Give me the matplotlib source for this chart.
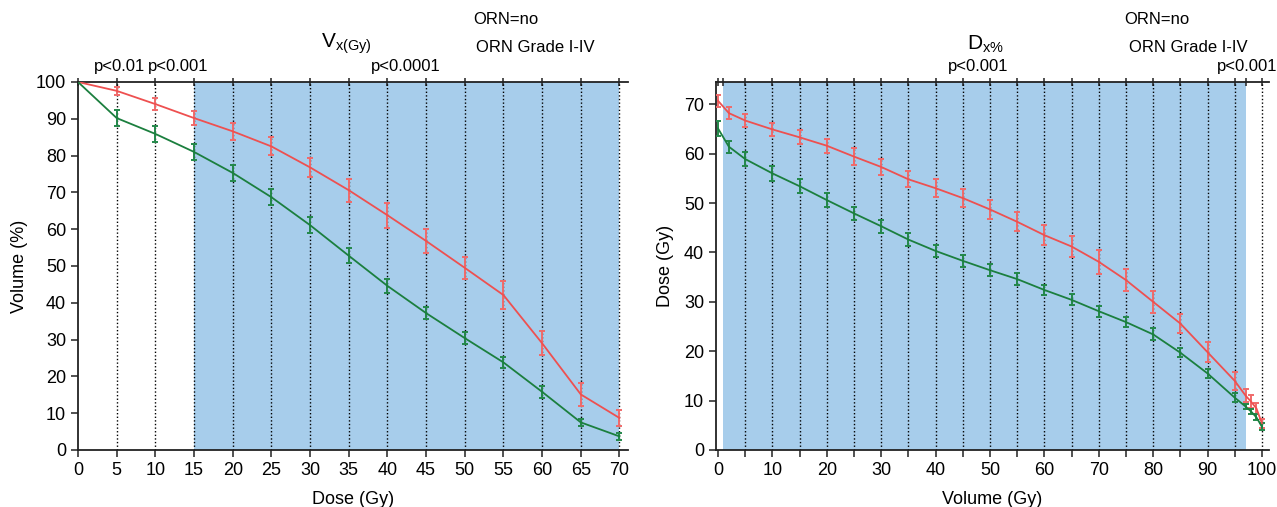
import matplotlib
matplotlib.use("Agg")
import matplotlib.pyplot as plt
import numpy as np

plt.rcParams['font.family'] = ['Liberation Sans', 'DejaVu Sans']
plt.rcParams['mathtext.fontset'] = 'custom'
plt.rcParams['mathtext.rm'] = 'Liberation Sans'
plt.rcParams['mathtext.it'] = 'Liberation Sans'

# ---- Left panel: V_x(Gy) ----
vx_dose = [0, 5, 10, 15, 20, 25, 30, 35, 40, 45, 50, 55, 60, 65, 70]
vx_orn_grade = [100, 97.6, 94.0, 90.2, 86.6, 82.5, 76.8, 70.6, 63.8, 56.8, 49.5, 42.1, 29.0, 15.1, 8.7]
vx_orn_grade_err = [0, 1.0, 1.6, 1.95, 2.3, 2.45, 2.6, 3.1, 3.4, 3.2, 3.0, 3.8, 3.3, 3.2, 2.2]
vx_orn_no = [100, 90.2, 85.9, 81.0, 75.3, 68.7, 61.1, 52.8, 44.6, 37.2, 30.4, 23.8, 15.8, 7.5, 3.7]
vx_orn_no_err = [0, 2.1, 2.1, 2.1, 2.1, 2.1, 2.2, 2.0, 2.0, 1.7, 1.6, 1.45, 1.6, 1.0, 1.0]

# ---- Right panel: D_x% ----
dx_vol = [0, 2, 5, 10, 15, 20, 25, 30, 35, 40, 45, 50, 55, 60, 65, 70, 75, 80, 85, 90, 95, 97, 98, 99, 100]
dx_orn_grade = [70.7, 68.2, 66.7, 64.9, 63.3, 61.6, 59.4, 57.3, 54.8, 53.0, 51.0, 48.7, 46.2, 43.5, 41.2, 38.1, 34.4, 30.0, 25.6, 19.8, 14.0, 11.0, 9.8, 8.4, 5.4]
dx_orn_grade_err = [1.2, 1.25, 1.25, 1.4, 1.4, 1.45, 1.7, 1.7, 1.6, 1.8, 1.8, 1.9, 1.9, 2.0, 2.1, 2.4, 2.2, 2.2, 2.0, 2.0, 1.85, 1.3, 1.35, 1.1, 0.95]
dx_orn_no = [65.1, 61.4, 58.9, 56.0, 53.4, 50.6, 47.9, 45.3, 42.6, 40.3, 38.3, 36.4, 34.6, 32.4, 30.4, 28.1, 25.9, 23.4, 19.7, 15.5, 10.6, 8.8, 7.8, 6.6, 4.7]
dx_orn_no_err = [1.45, 1.25, 1.35, 1.45, 1.4, 1.35, 1.3, 1.35, 1.3, 1.2, 1.2, 1.2, 1.2, 1.1, 1.1, 1.1, 1.1, 1.2, 0.95, 0.9, 0.85, 0.5, 0.55, 0.6, 0.7]

RED = '#EE5050'
RED_E = '#F06A6A'
GREEN = '#1B7F3E'
GREEN_E = '#23884A'
BLUE = '#A7CDEB'

fig = plt.figure(figsize=(12.77, 5.07), dpi=100)
W, H = 1277, 507

def px_axes(l, r, t, b):
    return [l / W, 1 - b / H, (r - l) / W, (b - t) / H]

ax1 = fig.add_axes(px_axes(78, 628, 82, 450))
ax2 = fig.add_axes(px_axes(716, 1269, 82, 450))

def style(ax):
    for s in ['left', 'bottom', 'top']:
        ax.spines[s].set_linewidth(1.3)
        ax.spines[s].set_color('#222222')
    ax.spines['right'].set_visible(False)
    ax.tick_params(axis='both', direction='out', length=5, width=1.1, labelsize=13, color='#222222')

def draw_series(ax, x, y, e, c, ec):
    ax.errorbar(x, y, yerr=e, color=c, ecolor=ec, lw=1.3, elinewidth=1.4,
                capsize=2.2, capthick=1.4, zorder=3)

DOT = (0, (1, 1.6))

# Left panel
style(ax1)
ax1.axvspan(15, 70, color=BLUE, lw=0, zorder=0)
for xv in vx_dose[1:]:
    ax1.axvline(xv, color='black', ls=DOT, lw=1.0, zorder=1)
draw_series(ax1, vx_dose, vx_orn_grade, vx_orn_grade_err, RED, RED_E)
draw_series(ax1, vx_dose, vx_orn_no, vx_orn_no_err, GREEN, GREEN_E)
ax1.set_xlim(0, 71.1)
ax1.set_ylim(0, 100)
ax1.set_xticks(vx_dose)
ax1.set_yticks(np.arange(0, 101, 10))
ax1.set_xlabel('Dose (Gy)', fontsize=13, labelpad=9)
ax1.set_ylabel('Volume (%)', fontsize=13, labelpad=6)
ax1t = ax1.secondary_xaxis('top')
ax1t.set_xticks(vx_dose)
ax1t.set_xticklabels([])
ax1t.tick_params(direction='inout', length=6, width=1.1, color='#222222')
ax1t.spines['top'].set_visible(False)

# Right panel
style(ax2)
ax2.axvspan(1, 97, color=BLUE, lw=0, zorder=0)
for xv in list(range(5, 100, 5)) + [100]:
    ax2.axvline(xv, color='black', ls=DOT, lw=1.0, zorder=1)
draw_series(ax2, dx_vol, dx_orn_grade, dx_orn_grade_err, RED, RED_E)
draw_series(ax2, dx_vol, dx_orn_no, dx_orn_no_err, GREEN, GREEN_E)
ax2.set_xlim(-0.37, 101.3)
ax2.set_ylim(0, 74.5)
ax2.set_xticks(np.arange(0, 101, 10))
ax2.set_xticks(np.arange(5, 100, 10), minor=True)
ax2.tick_params(axis='x', which='minor', direction='out', length=5, width=1.1, color='#222222')
ax2.set_yticks(np.arange(0, 71, 10))
ax2.set_xlabel('Volume (Gy)', fontsize=13, labelpad=9)
ax2.set_ylabel('Dose (Gy)', fontsize=13, labelpad=7)
ax2t = ax2.secondary_xaxis('top')
ax2t.set_xticks([0, 1] + list(range(5, 96, 5)) + [97, 100])
ax2t.set_xticklabels([])
ax2t.tick_params(direction='inout', length=6, width=1.1, color='#222222')
ax2t.spines['top'].set_visible(False)

def ftext(xp, yp, s, ha='center', size=12):
    fig.text(xp / W, 1 - yp / H, s, ha=ha, va='center', fontsize=size)

# Left annotations
ftext(506, 19, 'ORN=no')
ftext(535, 47, 'ORN Grade I-IV')
ftext(321, 44, r'V$_{\mathregular{x(Gy)}}$', ha='left', size=15)
ftext(94, 66, 'p<0.01', ha='left')
ftext(208, 66, 'p<0.001', ha='right')
ftext(406, 66, 'p<0.0001')

# Right annotations
ftext(1157, 19, 'ORN=no')
ftext(1188, 47, 'ORN Grade I-IV')
ftext(967, 44, r'D$_{\mathregular{x\%}}$', ha='left', size=15)
ftext(978, 66, 'p<0.001')
ftext(1277, 66, 'p<0.001', ha='right')

fig.savefig('out.png', dpi=100)
